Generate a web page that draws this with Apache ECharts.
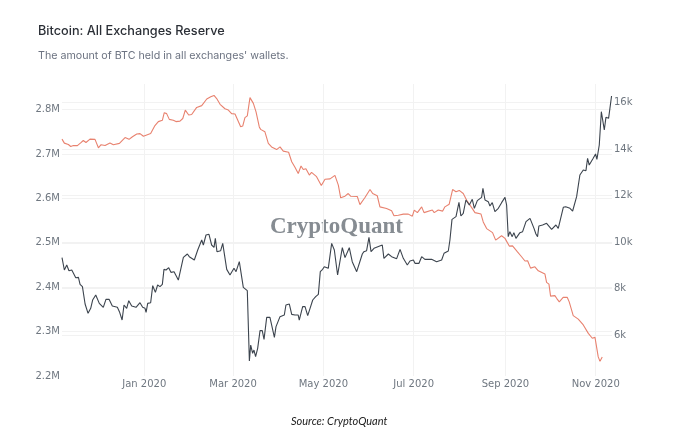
<!DOCTYPE html>
<html>
<head>
<meta charset="utf-8">
<script src="https://cdn.jsdelivr.net/npm/echarts@6/dist/echarts.min.js"></script>
<style>
  html, body { margin: 0; padding: 0; background: #fff; }
  #main { width: 676px; height: 445px; }
</style>
</head>
<body>
<div id="main"></div>
<script>
// days are counted from 1 Jan 2020, reserve is in thousands of BTC, price in USD
const reserveDays = [-55.6,-54,-51.3,-49.7,-47.9,-45.2,-43,-41.2,-39.4,-36.7,-33.3,-31,-29.2,-26.5,-23.2,-20.9,-16.8,-13,-10.3,-8,-5.1,-2.9,-0.6,4.3,7.2,9.5,12.2,13.5,15.1,16.9,19.6,21.4,24.1,26,27.7,30,32,35.4,38.8,39.9,42.2,44.9,47.1,48.9,51.2,54.5,56.8,59,61.3,65.1,66.5,68,69.6,71.4,72.1,73.7,75.5,77.7,78.6,81.5,83.8,86,89.4,91.7,93.9,97.5,99.6,101.8,104,105.9,107.4,109.2,111.5,113,116.4,119.6,122.1,125.5,126.6,128.8,131.1,132.7,135.6,137.8,139.4,143.9,145.7,149.1,152.5,154.3,157.4,159.2,163.7,167.1,168.7,171.6,172.8,175,178.4,181.1,182.4,184.5,187.4,189,194.6,195.9,198.6,201.6,203.1,206,208.3,210.6,212.8,215.5,217.8,221.1,223.4,227.5,229,231.3,235.3,237.4,241.4,243.7,246.6,248.8,252,254.9,257.2,259,261,263.9,266.2,270.7,271.8,273.4,274.5,277.4,278.6,280.4,283,285.8,287.1,289.8,293.2,296.6,300,302.7,304.5,306.7,307.9,309.4];
const reserveValues = [2733.5,2724.5,2721.5,2717,2719,2719,2725,2730.5,2726,2733.5,2733,2714,2721,2719,2725,2721,2724,2737,2733,2739,2745,2746,2740,2746,2764,2773,2776,2793,2791,2778,2776,2773,2774,2780,2799,2788,2789,2805,2809,2806,2824,2829,2832,2825,2812,2802,2799,2791,2790,2761.5,2763,2782,2786,2827,2823,2814,2795,2761,2755.5,2750,2724,2716,2710,2716,2706.5,2704,2682.5,2670,2656,2673,2665,2667,2652.5,2658.5,2649,2629,2643,2644,2642,2652,2630,2601.4,2605,2611,2605,2604.4,2586,2602,2620,2611,2606,2581,2577.4,2572,2561,2562,2558.6,2564.6,2564.6,2560,2573.6,2568,2581,2568,2574,2568,2574,2571.4,2581,2587,2620,2615,2618,2611,2596,2579.7,2568,2564.7,2547,2532,2523,2506,2516,2510,2492.6,2493,2480,2468.6,2459,2459.6,2443,2446,2437,2429.5,2411,2407,2380,2381,2375,2367,2377,2377,2367,2336,2328,2315,2296,2285,2287,2243,2233,2243];

const priceDays = [-55.6,-54,-52.4,-50.9,-49,-46.3,-44.5,-43.4,-41.8,-40,-38.9,-38,-36.2,-34.9,-34,-32.8,-30.4,-27.7,-25.9,-23.8,-21.6,-18.2,-16.8,-15,-13.7,-11.9,-10.5,-8.5,-5.6,-2.9,-1.1,0.5,1.2,2.3,4.3,5.7,7.5,9,10.6,12.2,13.3,14.7,16.5,18,20.1,23,24.1,26.4,29.1,30.4,33.8,36.1,38.8,39.9,41.7,43.7,45.5,47.1,48,49.1,51.6,53,55.7,57.9,59,60.6,62,64.2,65.1,66.9,69.6,70.3,71,71.9,73.2,74.1,75.2,76.6,78.2,79.7,80.9,82.7,84.9,87.9,89,91.7,92.8,94.6,95.7,98,99.6,101.8,104,104.7,107,108.6,110.4,112,113.8,115.8,117.6,118.9,120.5,121.6,124.3,126.6,128.4,130.6,133.8,135.6,138.5,140.5,143.5,147.3,148.4,150.2,151.8,153.2,155.2,160.8,161.9,164.9,167.1,170.5,172.8,175,177.7,179.5,181.8,182.9,185.6,187.4,189.6,194.1,197.5,200.9,202.5,205.4,206.5,207.9,210.6,212.6,213.9,215.5,217.3,219.6,221.6,223,225,227.9,228.8,230.2,232.4,233.5,235.1,236.9,239.2,241.4,243.7,244.8,245.9,247,248.6,249.7,251.1,253.8,255.6,257.9,260.6,261.7,263.3,264.6,265.7,266.6,269.1,271.8,275.2,278.1,279.7,283.1,284.7,287.6,289.4,292.1,294.3,296.6,298.4,299.5,300.6,303.3,304.9,305.8,307.4,308.8,309.7,310.8,311.9,313.7,315.7];
const priceValues = [9326,8796,9011,8767,8796,8466,8480,8179,8079,7333,7290,6932,7147,7505,7433,7720,7362,7190,7534,7534,7247,7190,7003,6645,7290,7147,7476,7247,7190,7390,7190,7147,6975,7362,7390,8122,7835,8150,8079,8179,8824,8796,8896,8695,8724,8365,8365,9340,9484,9369,9226,9656,10086,9871,10301,10330,9871,9770,10158,9584,9627,9943,8824,8581,8538,8868,8724,9154,9154,8050,7907,7892,4882,5570,5212,5355,5068,5427,6187,6187,5814,6760,6760,5900,6359,6789,6860,6860,7290,7333,6889,6860,6860,6645,7219,7219,6832,7147,7506,7649,7749,8724,8825,8939,8868,9943,9656,8581,9757,9327,9757,9154,8724,9484,9584,9627,10201,9584,9728,9871,9298,9484,9369,9284,9685,9298,9011,9183,9226,9083,9083,9369,9255,9255,9154,9226,9513,9613,10086,10975,11090,11706,11119,11233,11807,11592,11835,11448,11778,11921,12308,11807,11735,11549,11692,11305,11448,11692,11921,11592,10230,10445,10230,10402,10158,10402,10445,10875,11018,11061,10588,10344,10230,10688,10732,10803,10545,10732,10588,11491,11520,11448,11333,11950,12882,13097,13068,13599,13312,13599,13785,13556,14172,15606,15563,14817,15362,15319,16280];

const monthDays = [0,60,121,182,244,305];
const monthLabels = ['Jan 2020','Mar 2020','May 2020','Jul 2020','Sep 2020','Nov 2020'];
const reserveTicks = [2200,2300,2400,2500,2600,2700,2800];
const priceTicks = [6000,8000,10000,12000,14000,16000];

const labelStyle = { color:'#6f7780', fontFamily:'"DejaVu Sans"', fontSize:10 };
const gridLine = { lineStyle:{ color:'#f2f2f2', width:1 } };

let myChart = echarts.init(document.getElementById('main'));

let option = {
  backgroundColor:'#fff',
  animation:false,
  title:[
    { text:'Bitcoin: All Exchanges Reserve', left:38, top:25, padding:0,
      textStyle:{ color:'#2b2f36', fontFamily:'Inter', fontWeight:500, fontSize:12.7 } },
    { text:"The amount of BTC held in all exchanges' wallets.", left:38, top:50, padding:0,
      textStyle:{ color:'#6b7280', fontFamily:'Inter', fontWeight:400, fontSize:10.7 } },
    { text:'Source: CryptoQuant', left:291, top:416, padding:0,
      textStyle:{ color:'#222', fontFamily:'Lato', fontStyle:'italic', fontWeight:400, fontSize:11 } }
  ],
  graphic:[{
    type:'text', left:270, top:216, z:0,
    style:{ text:'CryptoQuant', fill:'#868c92', font:'bold 23px "Liberation Serif"' }
  }],
  grid:{ left:62, right:64, top:84, bottom:69 },
  xAxis:{
    type:'value',
    min:-55.6,
    max:316,
    axisLine:{ show:false },
    axisTick:{ show:false, customValues:monthDays },
    axisLabel:{
      ...labelStyle,
      margin:3,
      customValues:monthDays,
      formatter:v => monthLabels[monthDays.indexOf(v)]
    },
    splitLine:{ show:true, ...gridLine }
  },
  yAxis:[
    {
      type:'value', position:'left', min:2200, max:2857.7,
      axisLine:{ show:false },
      axisTick:{ show:false, customValues:reserveTicks },
      axisLabel:{
        ...labelStyle, margin:2,
        customValues:reserveTicks,
        formatter:v => (v/1000).toFixed(1)+'M'
      },
      splitLine:{ show:true, showMinLine:false, ...gridLine }
    },
    {
      type:'value', position:'right', min:4237, max:16796,
      axisLine:{ show:false },
      axisTick:{ show:false, customValues:priceTicks },
      axisLabel:{
        ...labelStyle, margin:2,
        customValues:priceTicks,
        formatter:v => (v/1000)+'k'
      },
      splitLine:{ show:true, ...gridLine }
    }
  ],
  series:[
    {
      name:'Reserve', type:'line', yAxisIndex:0, symbol:'none', z:3,
      lineStyle:{ color:'#e8826f', width:1.1 },
      data:reserveDays.map((d,i) => [d, reserveValues[i]])
    },
    {
      name:'Price', type:'line', yAxisIndex:1, symbol:'none', z:4,
      lineStyle:{ color:'#3c444e', width:1.1 },
      data:priceDays.map((d,i) => [d, priceValues[i]])
    }
  ]
};

myChart.setOption(option);
</script>
</body>
</html>
